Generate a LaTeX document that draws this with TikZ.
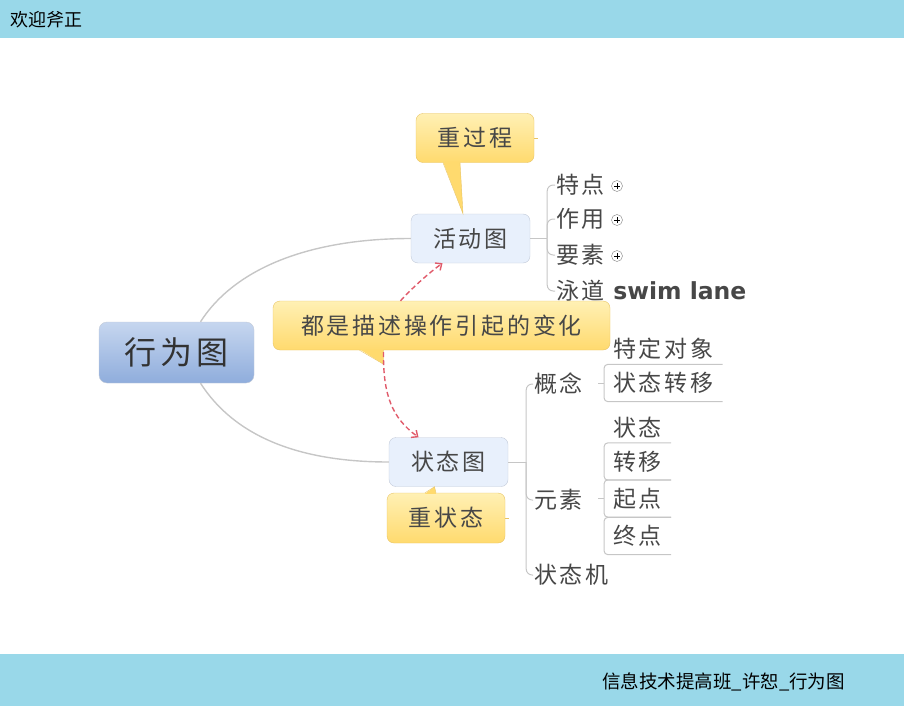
\documentclass[tikz,border=0pt]{standalone}
\usepackage{fontspec}
\usepackage{tikz}
\usetikzlibrary{arrows.meta}
\newfontfamily\cjk[LetterSpace=12]{Noto Sans CJK SC}
\newfontfamily\cjkbar{Noto Sans CJK SC}
\newfontfamily\lanefont{DejaVu Sans}
\definecolor{barc}{HTML}{99D8E9}
\definecolor{textc}{HTML}{474747}
\definecolor{linec}{HTML}{C6C6C6}
\definecolor{topictop}{HTML}{C6D6EF}
\definecolor{topicbot}{HTML}{8FADDC}
\definecolor{subfill}{HTML}{E8F0FC}
\definecolor{subdraw}{HTML}{C2CAD8}
\definecolor{calltop}{HTML}{FFF0B4}
\definecolor{callbot}{HTML}{FFDA6E}
\definecolor{calldraw}{HTML}{E8C466}
\definecolor{relc}{HTML}{E05A6A}

\begin{document}
\begin{tikzpicture}[x=1pt, y=-1pt,
  roottopic/.style={draw=subdraw, rounded corners=8pt, top color=topictop, bottom color=topicbot,
    minimum width=155pt, minimum height=61pt, font=\cjk\fontsize{32}{32}\selectfont, text=textc!70!black},
  subtopic/.style={draw=subdraw, fill=subfill, rounded corners=7pt, minimum width=119pt,
    minimum height=49pt, font=\cjk\fontsize{23}{23}\selectfont, text=textc},
  callout/.style={draw=calldraw, rounded corners=7pt, top color=calltop, bottom color=callbot,
    minimum height=49pt, font=\cjk\fontsize{23}{23}\selectfont, text=textc},
  leaf/.style={anchor=west, inner sep=0pt, font=\cjk\fontsize{23}{23}\selectfont, text=textc},
  leafbox/.style={anchor=west, inner xsep=9pt, inner ysep=0pt, minimum height=37pt,
    font=\cjk\fontsize{23}{23}\selectfont, text=textc},
  branch/.style={linec, line width=1pt},
  relation/.style={relc, dash pattern=on 5pt off 3pt, line width=1.4pt,
    -{Straight Barb[length=5pt,width=9pt]}},
  plusmark/.style={circle, draw=gray, fill=white, inner sep=0pt, minimum size=11pt}]
  \useasboundingbox (0,0) rectangle (904,706);
  % bars
  \fill[barc] (0,0) rectangle (904,38);
  \fill[barc] (0,654) rectangle (904,706);
  \node[anchor=west, inner sep=0pt, font=\cjkbar\fontsize{18}{18}\selectfont] (title) at (10,20) {欢迎斧正};
  \node[anchor=west, inner sep=0pt, font=\cjkbar\fontsize{18.5}{18.5}\selectfont] (footer) at (602,682) {信息技术提高班\_许恕\_行为图};

  % topics
  \node[roottopic] (root) at (176.5,352.5) {行为图};
  \node[subtopic] (hdt) at (470.5,238.5) {活动图};
  \node[subtopic] (ztt) at (448.5,462) {状态图};

  \draw[branch, line width=1.4pt] ([xshift=24pt]root.north) .. controls (235,268) and (310,238.5) .. (hdt.west);
  \draw[branch, line width=1.4pt] ([xshift=24pt]root.south) .. controls (235,437) and (300,462) .. (ztt.west);

  % activity diagram children
  \node[leaf] (td) at (556,185) {特点};
  \node[leaf] (zy) at (556,219) {作用};
  \node[leaf] (ys) at (556,255) {要素};
  \node[leaf] (yd) at (556,291) {泳道};
  \node[anchor=base west, inner sep=0pt, font=\lanefont\bfseries\fontsize{23.5}{23.5}\selectfont,
    text=textc] (lane) at ([xshift=8pt]yd.base east) {swim lane};
  \coordinate (hb) at ([xshift=17pt]hdt.east);
  \draw[branch] (hdt.east) -- (hb);
  \foreach \c in {td,zy,ys,yd}
    \draw[branch, rounded corners=6pt] ([xshift=-1pt]\c.west) -| (hb);
  \foreach \c/\y in {td/186,zy/220,ys/256}{
    \node[plusmark] (p\c) at (617,\y) {};
    \draw[black, line width=1pt] ([xshift=-3pt]p\c.center) -- ([xshift=3pt]p\c.center)
      ([yshift=-3pt]p\c.center) -- ([yshift=3pt]p\c.center);
  }

  % state diagram children
  \node[leaf] (gn) at (534,384) {概念};
  \node[leaf] (ys2) at (534,500) {元素};
  \node[leaf] (ztj) at (534,575) {状态机};
  \coordinate (zb) at ([xshift=18pt]ztt.east);
  \draw[branch] (ztt.east) -- (zb);
  \foreach \c in {gn,ys2,ztj}
    \draw[branch, rounded corners=6pt] ([xshift=-1pt]\c.west) -| (zb);

  \node[leaf] (tddx) at (613,349) {特定对象};
  \node[leafbox] (ztzy) at (604,383) {状态转移};
  \draw[branch, rounded corners=4pt] (ztzy.north east) -- (ztzy.north west) -- (ztzy.south west) -- (ztzy.south east);
  \draw[branch] ([xshift=-6pt]ztzy.west) -- (ztzy.west);

  \node[leaf] (zt) at (613,428) {状态};
  \node[leafbox] (zy2) at (604,461.5) {转移};
  \node[leafbox] (qd) at (604,498.5) {起点};
  \node[leafbox] (zd) at (604,536) {终点};
  \foreach \c in {zy2,qd,zd}
    \draw[branch, rounded corners=4pt] (\c.north east) -- (\c.north west) -- (\c.south west) -- (\c.south east);
  \draw[branch] ([xshift=-6pt]qd.west) -- (qd.west);

  % callouts
  \node[callout, minimum width=118pt] (gg) at (475,138) {重过程};
  \fill[callbot] ([xshift=-32pt,yshift=1pt]gg.south) -- ([xshift=-7.5pt]hdt.north) -- ([xshift=-15pt,yshift=1pt]gg.south) -- cycle;
  \draw[calldraw] ([xshift=-32pt]gg.south) -- ([xshift=-7.5pt]hdt.north) -- ([xshift=-15pt]gg.south);
  \draw[calldraw, line width=1pt] (gg.east) -- ++(4,0);

  \node[callout, minimum width=337pt] (bs) at (441.5,325.5) {都是描述操作引起的变化};
  \coordinate (bstip) at ([xshift=-58pt,yshift=-14pt]bs.south);
  \fill[callbot] ([xshift=-82pt,yshift=1pt]bs.south) -- (bstip) -- ([xshift=-58pt,yshift=1pt]bs.south) -- cycle;
  \draw[calldraw] ([xshift=-82pt]bs.south) -- (bstip) -- ([xshift=-58pt]bs.south);

  \node[callout, minimum width=118pt, minimum height=50pt] (zzt) at (446,518) {重状态};
  \fill[callbot] ([xshift=-21pt,yshift=-1pt]zzt.north) -- ([xshift=-14pt]ztt.south) -- ([xshift=-10pt,yshift=-1pt]zzt.north) -- cycle;
  \draw[calldraw] ([xshift=-21pt]zzt.north) -- ([xshift=-14pt]ztt.south) -- ([xshift=-10pt]zzt.north);
  \draw[calldraw, line width=1pt] (zzt.east) -- ++(4,0);

  % relations
  \draw[relation] ([xshift=-41pt]bs.north) .. controls (412,288) and (430,272) .. ([xshift=-28pt]hdt.south);
  \draw[relation] ([xshift=-58pt,yshift=-2pt]bs.south) .. controls (383,395) and (392,418) .. ([xshift=-30pt]ztt.north);
\end{tikzpicture}
\end{document}
